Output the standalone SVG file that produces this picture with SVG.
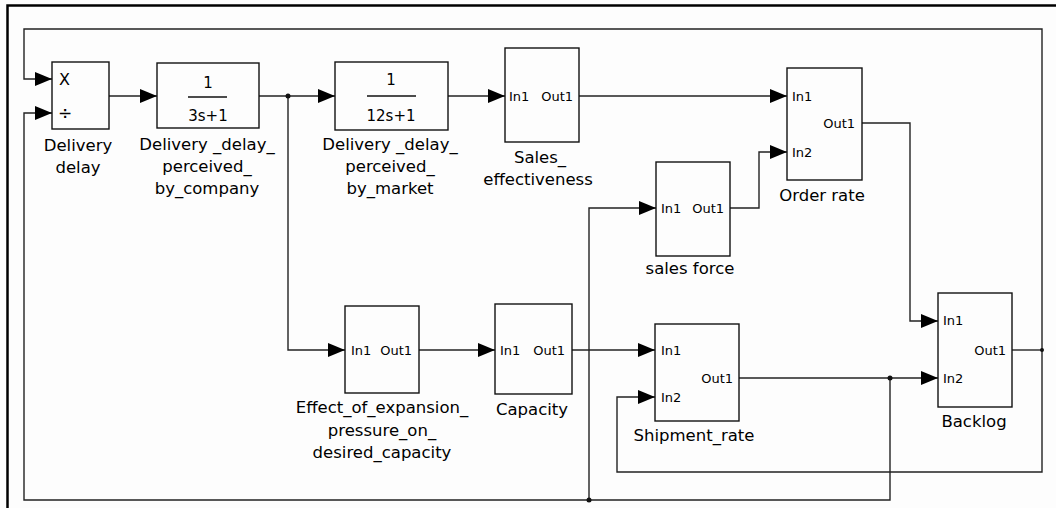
<svg xmlns="http://www.w3.org/2000/svg" width="1056" height="508" viewBox="0 0 1056 508">
<style>
.bg{fill:#fdfdfd}
.frame{fill:none;stroke:#000;stroke-width:2.5}
.blk{fill:none;stroke:#111;stroke-width:1.4}
.wire{fill:none;stroke:#222;stroke-width:1.4}
.arr{fill:none;stroke:#222;stroke-width:1.4;marker-end:url(#ah)}
.lbl{font-family:"DejaVu Sans",sans-serif;font-size:16.5px;fill:#000;text-anchor:middle}
.port{font-family:"DejaVu Sans",sans-serif;font-size:13px;fill:#000}
.frac{font-family:"DejaVu Sans",sans-serif;font-size:15px;fill:#000;text-anchor:middle}
.dot{fill:#111}
</style>
<defs>
<marker id="ah" markerUnits="userSpaceOnUse" markerWidth="17" markerHeight="14" refX="17" refY="7" orient="auto">
<path d="M0,0 L17,7 L0,14 Z" fill="#000"/>
</marker>
</defs>
<rect class="bg" x="0" y="0" width="1056" height="508"/>
<rect class="frame" x="7.5" y="5.5" width="1100" height="600"/>

<g id="connectors">
<path class="arr" d="M109,96 H157"/>
<path class="arr" d="M259,96 H335"/>
<path class="arr" d="M288,96 V350 H345"/>
<path class="arr" d="M448,96 H505"/>
<path class="arr" d="M579,96 H787"/>
<path class="arr" d="M730,208 H759 V152 H787"/>
<path class="arr" d="M862,123 H910 V321 H938"/>
<path class="arr" d="M419,350 H495"/>
<path class="arr" d="M572,350 H655"/>
<path class="arr" d="M739,378 H938"/>
<path class="arr" d="M890,378 V500 H24 V113 H52"/>
<path class="arr" d="M589,500 V208 H656"/>
<path class="wire" d="M1012,350 H1042"/>
<path class="arr" d="M1042,350 V29 H24 V79 H52"/>
<path class="arr" d="M1042,350 V472 H617 V397 H655"/>
<circle class="dot" cx="288" cy="96" r="2.5"/>
<circle class="dot" cx="890" cy="378" r="2.5"/>
<circle class="dot" cx="589" cy="500" r="2.5"/>
<circle class="dot" cx="1042" cy="350" r="2"/>
</g>

<g id="delivery_delay">
<rect class="blk" x="52" y="62" width="57" height="67"/>
<text class="port" x="59" y="85" style="font-size:16px">X</text>
<text class="port" x="58" y="119" style="font-size:17px">÷</text>
<text class="lbl" x="78" y="151">Delivery</text>
<text class="lbl" x="78" y="173">delay</text>
</g>

<g id="delay_company">
<rect class="blk" x="157" y="63" width="102" height="65"/>
<text class="frac" x="208" y="88">1</text>
<line class="blk" x1="188" y1="97" x2="227" y2="97"/>
<text class="frac" x="208" y="121">3s+1</text>
<text class="lbl" x="207" y="150">Delivery _delay_</text>
<text class="lbl" x="207" y="172">perceived_</text>
<text class="lbl" x="207" y="194">by_company</text>
</g>

<g id="delay_market">
<rect class="blk" x="335" y="62" width="113" height="68"/>
<text class="frac" x="391" y="85">1</text>
<line class="blk" x1="367" y1="96" x2="416" y2="96"/>
<text class="frac" x="391" y="121">12s+1</text>
<text class="lbl" x="390" y="150">Delivery _delay_</text>
<text class="lbl" x="390" y="172">perceived_</text>
<text class="lbl" x="390" y="194">by_market</text>
</g>

<g id="sales_effectiveness">
<rect class="blk" x="505" y="48" width="74" height="94"/>
<text class="port" x="509" y="101">In1</text>
<text class="port" x="573" y="101" text-anchor="end">Out1</text>
<text class="lbl" x="540" y="163">Sales_</text>
<text class="lbl" x="538" y="185">effectiveness</text>
</g>

<g id="order_rate">
<rect class="blk" x="787" y="68" width="75" height="112"/>
<text class="port" x="792" y="101">In1</text>
<text class="port" x="792" y="157">In2</text>
<text class="port" x="855" y="128" text-anchor="end">Out1</text>
<text class="lbl" x="822" y="201">Order rate</text>
</g>

<g id="sales_force">
<rect class="blk" x="656" y="162" width="74" height="94"/>
<text class="port" x="661" y="213">In1</text>
<text class="port" x="724" y="213" text-anchor="end">Out1</text>
<text class="lbl" x="690" y="274">sales force</text>
</g>

<g id="effect_expansion">
<rect class="blk" x="345" y="306" width="74" height="87"/>
<text class="port" x="351" y="355">In1</text>
<text class="port" x="412" y="355" text-anchor="end">Out1</text>
<text class="lbl" x="382" y="413">Effect_of_expansion_</text>
<text class="lbl" x="382" y="436">pressure_on_</text>
<text class="lbl" x="382" y="458">desired_capacity</text>
</g>

<g id="capacity">
<rect class="blk" x="495" y="304" width="77" height="90"/>
<text class="port" x="500" y="355">In1</text>
<text class="port" x="565" y="355" text-anchor="end">Out1</text>
<text class="lbl" x="532" y="415">Capacity</text>
</g>

<g id="shipment_rate">
<rect class="blk" x="655" y="324" width="84" height="97"/>
<text class="port" x="661" y="355">In1</text>
<text class="port" x="661" y="402">In2</text>
<text class="port" x="733" y="383" text-anchor="end">Out1</text>
<text class="lbl" x="694" y="441">Shipment_rate</text>
</g>

<g id="backlog">
<rect class="blk" x="938" y="293" width="74" height="114"/>
<text class="port" x="943" y="325">In1</text>
<text class="port" x="943" y="383">In2</text>
<text class="port" x="1006" y="355" text-anchor="end">Out1</text>
<text class="lbl" x="974" y="427">Backlog</text>
</g>
</svg>
